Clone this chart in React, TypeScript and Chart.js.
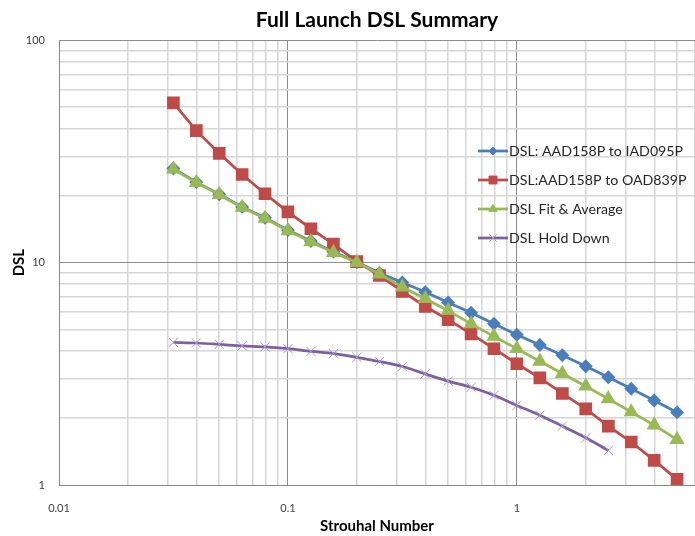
import React, { useEffect, useRef } from 'react';
import { Chart, registerables } from 'chart.js';

Chart.register(...registerables);

// ---- data ----
const strouhal = [0.0316, 0.0398, 0.0501, 0.0631, 0.0794, 0.1, 0.126, 0.158, 0.2, 0.251, 0.316, 0.398, 0.501, 0.631, 0.794, 1, 1.26, 1.58, 2, 2.51, 3.16, 3.98, 5.01];
const dslIad = [26.5, 23.0, 20.3, 17.8, 15.9, 14.0, 12.5, 11.2, 10.05, 8.97, 8.14, 7.37, 6.62, 5.95, 5.31, 4.74, 4.26, 3.83, 3.42, 3.05, 2.71, 2.40, 2.12];
const dslOad = [52.3, 39.2, 31.0, 24.9, 20.4, 16.9, 14.2, 12.1, 10.1, 8.75, 7.42, 6.35, 5.54, 4.78, 4.10, 3.51, 3.03, 2.58, 2.20, 1.84, 1.56, 1.29, 1.06];
const dslFit = [26.3, 22.9, 20.2, 17.7, 15.8, 13.9, 12.4, 11.1, 10.0, 8.88, 7.76, 6.88, 6.08, 5.30, 4.66, 4.10, 3.60, 3.17, 2.78, 2.44, 2.13, 1.86, 1.60];
const dslHold = [4.38, 4.35, 4.29, 4.22, 4.18, 4.10, 3.99, 3.90, 3.75, 3.59, 3.41, 3.16, 2.93, 2.75, 2.53, 2.28, 2.06, 1.84, 1.63, 1.43];
const seriesNames = ['DSL: AAD158P to IAD095P', 'DSL:AAD158P to OAD839P', 'DSL Fit & Average', 'DSL Hold Down'];
const chartTitle = 'Full Launch DSL Summary';
const xTitle = 'Strouhal Number';
const yTitle = 'DSL';
const xTickLabels = ['0.01', '0.1', '1'];
const yTickLabels = ['1', '10', '100'];
const xGridValues = [0.01, 0.02, 0.03, 0.04, 0.05, 0.06, 0.07, 0.08, 0.09, 0.1, 0.2, 0.3, 0.4, 0.5, 0.6, 0.7, 0.8, 0.9, 1, 2, 3, 4, 5, 6];
const yGridValues = [1, 2, 3, 4, 5, 6, 7, 8, 9, 10, 20, 30, 40, 50, 60, 70, 80, 90, 100];

const FONT = 'Lato, "Open Sans", sans-serif';
const isDecade = (v: number) => Math.abs(Math.log10(v) - Math.round(Math.log10(v))) < 1e-6;

function drawMarker(ctx: CanvasRenderingContext2D, style: string, x: number, y: number, r: number, fill: string, stroke: string) {
  ctx.save();
  ctx.beginPath();
  ctx.fillStyle = fill;
  ctx.strokeStyle = stroke;
  ctx.lineWidth = 1;
  if (style === 'rectRot') {
    ctx.moveTo(x - r, y); ctx.lineTo(x, y - r); ctx.lineTo(x + r, y); ctx.lineTo(x, y + r); ctx.closePath();
    ctx.fill(); ctx.stroke();
  } else if (style === 'rect') {
    const s = Math.SQRT1_2 * r;
    ctx.rect(x - s, y - s, 2 * s, 2 * s); ctx.fill(); ctx.stroke();
  } else if (style === 'triangle') {
    const h = r * Math.sqrt(3) / 2;
    ctx.moveTo(x, y - r); ctx.lineTo(x + h, y + r / 2); ctx.lineTo(x - h, y + r / 2); ctx.closePath();
    ctx.fill(); ctx.stroke();
  } else {
    const d = r * Math.SQRT1_2;
    ctx.moveTo(x - d, y - d); ctx.lineTo(x + d, y + d); ctx.moveTo(x + d, y - d); ctx.lineTo(x - d, y + d);
    ctx.stroke();
  }
  ctx.restore();
}

const insideLegend = {
  id: 'insideLegend',
  afterDraw(chart: any) {
    const ctx: CanvasRenderingContext2D = chart.ctx;
    const rows = [151, 180, 209, 238];
    chart.data.datasets.forEach((ds: any, i: number) => {
      const y = rows[i];
      ctx.save();
      ctx.strokeStyle = ds.borderColor;
      ctx.lineWidth = ds.borderWidth;
      ctx.beginPath();
      ctx.moveTo(478, y);
      ctx.lineTo(508, y);
      ctx.stroke();
      ctx.restore();
      drawMarker(ctx, ds.pointStyle, 493, y, ds.pointRadius * 0.8, ds.pointBackgroundColor, ds.pointBorderColor);
      ctx.save();
      ctx.fillStyle = '#262626';
      ctx.font = `14.2px ${FONT}`;
      ctx.textBaseline = 'middle';
      ctx.textAlign = 'left';
      ctx.fillText(ds.label, 509, y + 0.5);
      ctx.restore();
    });
  },
};

function makeSeries(values: number[]) {
  return values.map((v, i) => ({ x: strouhal[i], y: v }));
}

export default function App() {
  const ref = useRef<HTMLCanvasElement | null>(null);
  useEffect(() => {
    if (!ref.current) return;
    const gridColor = (c: any) => (c.tick && isDecade(c.tick.value) ? '#8c8c8c' : '#d6d6d6');
    const gridWidth = (c: any) => (c.tick && isDecade(c.tick.value) ? 1 : 1.5);
    const chart = new Chart(ref.current, {
      type: 'line',
      data: {
        datasets: [
          { label: seriesNames[0], data: makeSeries(dslIad), borderColor: '#4a7ebb', backgroundColor: '#4a7ebb', pointBackgroundColor: '#4a7ebb', pointBorderColor: '#4a7ebb', borderWidth: 2.75, pointStyle: 'rectRot', pointRadius: 5, order: 4, tension: 0 },
          { label: seriesNames[1], data: makeSeries(dslOad), borderColor: '#be4b48', backgroundColor: '#be4b48', pointBackgroundColor: '#be4b48', pointBorderColor: '#be4b48', borderWidth: 2.75, pointStyle: 'rect', pointRadius: 7, order: 3, tension: 0 },
          { label: seriesNames[2], data: makeSeries(dslFit), borderColor: '#98b954', backgroundColor: '#98b954', pointBackgroundColor: '#98b954', pointBorderColor: '#98b954', borderWidth: 2.75, pointStyle: 'triangle', pointRadius: 6, order: 2, tension: 0 },
          { label: seriesNames[3], data: makeSeries(dslHold), borderColor: '#7d60a0', backgroundColor: '#a898cc', pointBackgroundColor: '#a898cc', pointBorderColor: '#a898cc', borderWidth: 2.75, pointStyle: 'crossRot', pointRadius: 6.5, pointBorderWidth: 1, order: 1, tension: 0.3 },
        ],
      } as any,
      options: {
        animation: false,
        responsive: false,
        events: [],
        layout: { padding: 0, autoPadding: false },
        plugins: {
          legend: { display: false },
          tooltip: { enabled: false },
          title: {
            display: true,
            text: chartTitle,
            fullSize: false,
            color: '#000',
            font: { family: FONT, size: 21, weight: 'bold' },
            padding: { top: 8, bottom: 7 },
          },
        },
        scales: {
          x: {
            type: 'logarithmic',
            min: 0.01,
            max: 6,
            afterBuildTicks: (s: any) => { s.ticks = xGridValues.map((v) => ({ value: v, major: isDecade(v) })); },
            afterFit: (s: any) => { s.height = 51; s.paddingRight = 0; s.paddingLeft = 0; },
            grid: { drawTicks: false, color: gridColor, lineWidth: gridWidth },
            border: { color: '#868686', width: 1 },
            ticks: {
              autoSkip: false, maxRotation: 0, padding: 17, color: '#404040',
              font: { family: FONT, size: 11 },
              callback: (v: any) => xTickLabels.find((l) => Math.abs(Number(l) - Number(v)) < 1e-9) ?? '',
            },
            title: { display: true, text: xTitle, color: '#000', font: { family: FONT, size: 15, weight: 'bold' }, padding: { top: 0, bottom: 1 } },
          },
          y: {
            type: 'logarithmic',
            min: 1,
            max: 100,
            afterBuildTicks: (s: any) => { s.ticks = yGridValues.map((v) => ({ value: v, major: isDecade(v) })); },
            afterFit: (s: any) => { s.width = 59; },
            grid: { drawTicks: false, color: gridColor, lineWidth: gridWidth },
            border: { color: '#868686', width: 1 },
            ticks: {
              autoSkip: false, padding: 14, color: '#404040',
              font: { family: FONT, size: 11 },
              callback: (v: any) => yTickLabels.find((l) => Math.abs(Number(l) - Number(v)) < 1e-9) ?? '',
            },
            title: { display: true, text: yTitle, color: '#000', font: { family: FONT, size: 15, weight: 'bold' }, padding: { top: 10, bottom: 0 } },
          },
        },
      } as any,
      plugins: [insideLegend],
    });
    return () => chart.destroy();
  }, []);
  return (
    <div style={{ position: 'absolute', left: 0, top: 0, width: 695, height: 536, background: '#fff' }}>
      <canvas ref={ref} width={695} height={536} style={{ display: 'block' }} />
    </div>
  );
}
